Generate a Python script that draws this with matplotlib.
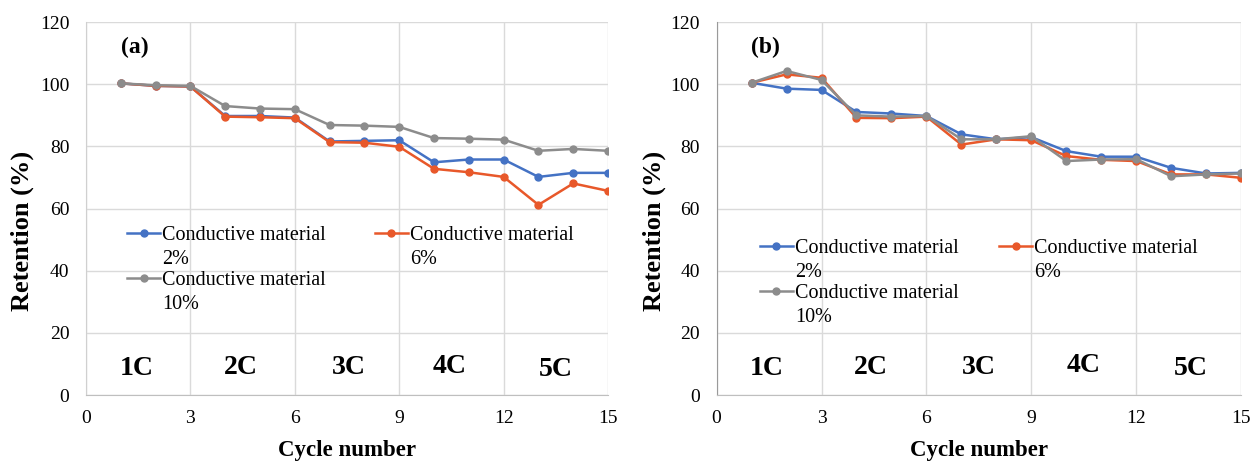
import matplotlib.pyplot as plt
from matplotlib.lines import Line2D
from matplotlib.legend_handler import HandlerLine2D

plt.rcParams['font.family'] = ['Liberation Serif', 'DejaVu Serif']

cycles = list(range(1, 16))

# panel (a)
a_2 = [100.3, 99.5, 99.3, 89.8, 89.8, 89.3, 81.6, 81.8, 82.0, 74.9, 75.8, 75.8, 70.2, 71.5, 71.5]
a_6 = [100.3, 99.5, 99.3, 89.6, 89.4, 89.1, 81.4, 81.2, 79.9, 72.8, 71.7, 70.2, 61.2, 68.1, 65.7]
a_10 = [100.3, 99.7, 99.5, 93.0, 92.2, 92.0, 86.9, 86.7, 86.3, 82.7, 82.5, 82.2, 78.6, 79.2, 78.6]

# panel (b)
b_2 = [100.5, 98.6, 98.2, 91.1, 90.6, 89.8, 83.9, 82.3, 83.0, 78.5, 76.7, 76.7, 73.1, 71.3, 71.5]
b_6 = [100.5, 103.2, 102.1, 89.2, 89.1, 89.6, 80.6, 82.3, 82.0, 76.9, 75.7, 75.3, 71.0, 71.0, 69.9]
b_10 = [100.5, 104.3, 101.4, 90.0, 89.6, 89.8, 82.3, 82.3, 83.3, 75.3, 75.8, 75.9, 70.4, 71.0, 71.3]

rates = ['1C', '2C', '3C', '4C', '5C']
labels = ['Conductive material\n2%', 'Conductive material\n6%', 'Conductive material\n10%']
colors = ['#4472C4', '#E8582A', '#8C8C8C']


class TopHandler(HandlerLine2D):
    # put the legend line next to the first text line
    def create_artists(self, legend, orig_handle, xdescent, ydescent, width, height, fontsize, trans):
        return super().create_artists(legend, orig_handle, xdescent, ydescent - 1.45 * fontsize,
                                      width, height, fontsize, trans)


fig = plt.figure(figsize=(12.55, 4.62), dpi=100)
ax1 = fig.add_axes([0.0685, 0.145, 0.416, 0.807])
ax2 = fig.add_axes([0.571, 0.145, 0.418, 0.807])

def draw(ax, series, tag, rate_x, rate_y, leg_pos, colsp, left_col, ylab_x):
    hs = []
    for s, lab, c in zip(series, labels, colors):
        h, = ax.plot(cycles, s, color=c, lw=1.8, marker='o', ms=5, label=lab)
        hs.append(h)
    ax.set_xlim(0, 15)
    ax.set_ylim(0, 120)
    ax.set_xticks(range(0, 16, 3))
    ax.set_yticks(range(0, 121, 20))
    ax.grid(color='#DADADA', lw=1)
    ax.set_axisbelow(True)
    for sp in ['top', 'right']:
        ax.spines[sp].set_visible(False)
    ax.spines['left'].set_color(left_col)
    ax.spines['bottom'].set_color('#BFBFBF')
    ax.tick_params(axis='y', length=0, labelsize=14, pad=12)
    ax.tick_params(axis='x', length=0, labelsize=14, pad=11)
    ax.set_xlabel('Cycle number', fontsize=16.5, fontweight='bold', labelpad=9)
    ax.set_ylabel('Retention (%)', fontsize=19, fontweight='bold')
    ax.yaxis.set_label_coords(ylab_x, 0.44)
    ax.text(1.4, 112, tag, fontsize=17, fontweight='bold', ha='center', va='center')
    for r, x, y in zip(rates, rate_x, rate_y):
        ax.text(x, y, r, fontsize=20, fontweight='bold', ha='center', va='center')
    order = [0, 2, 1]
    leg = ax.legend([hs[i] for i in order], [labels[i] for i in order],
                    loc='upper left', bbox_to_anchor=leg_pos, ncol=2, frameon=False,
                    fontsize=14.5, handlelength=1.65, handletextpad=0.1, columnspacing=colsp,
                    labelspacing=0.1, borderaxespad=0, borderpad=0,
                    handler_map={Line2D: TopHandler()})
    for t in leg.get_texts():
        t.set_linespacing(1.35)

draw(ax1, [a_2, a_6, a_10], '(a)', [1.45, 4.45, 7.55, 10.45, 13.5], [8.5, 8.7, 8.8, 9.2, 8.2],
     (0.079, 0.452), 2.4, '#D0D0D0', -0.1)
draw(ax2, [b_2, b_6, b_10], '(b)', [1.42, 4.4, 7.5, 10.5, 13.55], [8.5, 8.9, 8.9, 9.6, 8.4],
     (0.082, 0.418), 2.0, '#9A9A9A', -0.096)

fig.savefig('out.png', dpi=100)
